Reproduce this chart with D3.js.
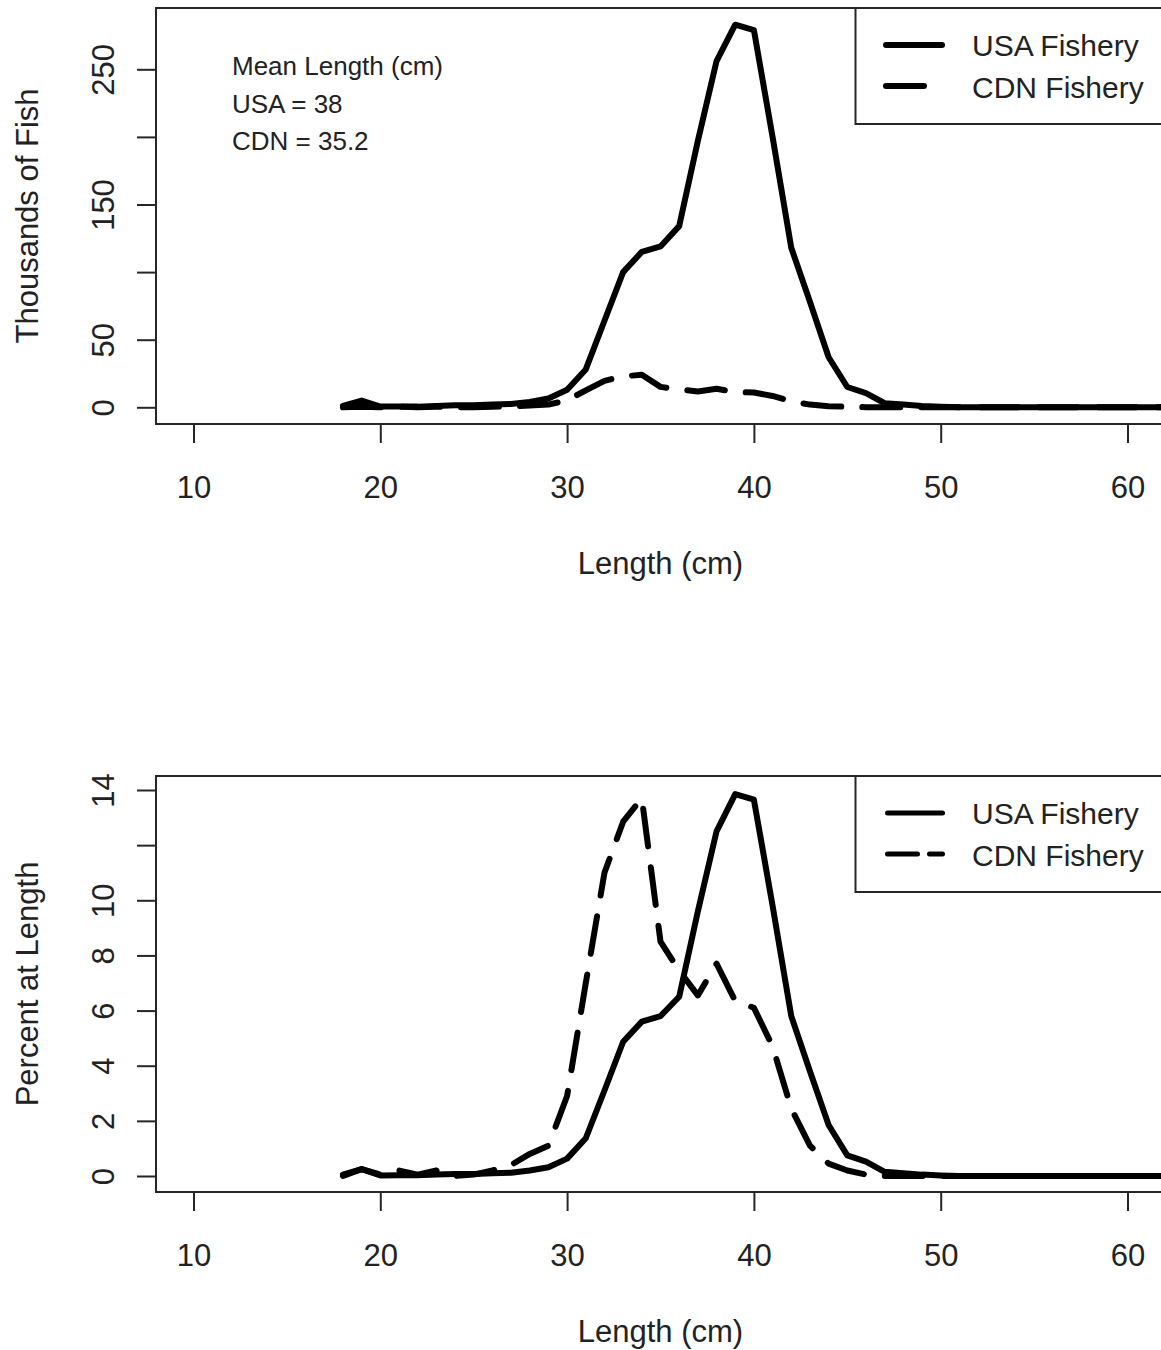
<!DOCTYPE html>
<html>
<head>
<meta charset="utf-8">
<script src="https://cdn.jsdelivr.net/npm/d3@7"></script>
<style>
  body { margin: 0; background: #fff; }
  text { font-family: "Liberation Sans", Arial, sans-serif; fill: #222; }
</style>
</head>
<body>
<svg id="chart" width="1161" height="1350"></svg>
<script>
// Length classes (cm)
const lengthCm = [18,19,20,21,22,23,24,25,26,27,28,29,30,31,32,33,34,35,36,37,38,39,40,
                  41,42,43,44,45,46,47,48,49,50,51,52,53,54,55,56,57,58,59,60,61,62,63,64];

// Catch at length, thousands of fish
const usaThousands = [1,5,0.5,0.5,0.5,1,1.5,1.5,2,2.5,4,6.5,13,28,64,100,115,119,134,197,256,283,279,
                      200,118,78,37,15,10.5,3,2,1,0.5,0,0,0,0,0,0,0,0,0,0,0,0,0,0];
const cdnThousands = [0,0.4,0.1,0.4,0.1,0.4,0,0.1,0.4,0.7,1.4,2,5.2,12.5,19.6,22.9,24,15.1,13.3,11.7,13.7,11.3,10.9,
                      8.4,4.4,2,0.8,0.4,0.1,0,0,0,0,0,0,0,0,0,0,0,0,0,0,0,0,0,0];

// Percent at length
const usaPercent = [0.05,0.25,0.02,0.03,0.03,0.05,0.07,0.07,0.1,0.12,0.2,0.32,0.63,1.37,3.1,4.87,5.6,5.8,6.5,9.6,12.5,13.85,13.65,
                    9.8,5.8,3.8,1.85,0.75,0.52,0.15,0.1,0.05,0.02,0,0,0,0,0,0,0,0,0,0,0,0,0,0];
const cdnPercent = [0,0.25,0.05,0.2,0.05,0.2,0,0.05,0.2,0.4,0.8,1.1,2.9,7,11,12.85,13.7,8.5,7.45,6.55,7.7,6.35,6.1,
                    4.7,2.45,1.1,0.45,0.2,0.05,0,0,0,0,0,0,0,0,0,0,0,0,0,0,0,0,0,0];

// Axis ticks and labels
const xTicks = [10,20,30,40,50,60];
const countTicks = [0,50,100,150,200,250];
const countTickLabels = ["0","50","","150","","250"];
const pctTicks = [0,2,4,6,8,10,12,14];
const pctTickLabels = ["0","2","4","6","8","10","","14"];
const seriesNames = ["USA Fishery","CDN Fishery"];
const meanLines = ["Mean Length (cm)","USA = 38","CDN = 35.2"];
const xTitle = "Length (cm)";

const svg = d3.select("#chart");
svg.append("rect").attr("width", 1161).attr("height", 1350).attr("fill", "#fff");

const plotLeft = 156, plotRight = 1165;
const x = d3.scaleLinear().domain([10, 60]).range([193.5, 1127.5]);

const INK = "#262626";

function drawPanel(cfg) {
  const g = svg.append("g");
  const y = d3.scaleLinear().domain(cfg.yDomain).range(cfg.yRange);
  const clipId = "clip-" + cfg.id;
  svg.append("defs").append("clipPath").attr("id", clipId)
    .append("rect").attr("x", plotLeft).attr("y", cfg.top)
    .attr("width", plotRight - plotLeft).attr("height", cfg.bottom - cfg.top);

  // series
  const line = d3.line().x((d, i) => x(lengthCm[i])).y(d => y(d));
  const lines = g.append("g").attr("clip-path", `url(#${clipId})`);
  cfg.series.forEach((s, k) => {
    lines.append("path")
      .attr("d", line(s))
      .attr("fill", "none")
      .attr("stroke", "#000")
      .attr("stroke-width", 6)
      .attr("stroke-linecap", "round")
      .attr("stroke-linejoin", "round")
      .attr("stroke-dasharray", k === 1 ? "38,21" : null);
  });

  // frame
  g.append("rect")
    .attr("x", plotLeft).attr("y", cfg.top)
    .attr("width", plotRight - plotLeft).attr("height", cfg.bottom - cfg.top)
    .attr("fill", "none").attr("stroke", INK).attr("stroke-width", 2);

  // x axis
  const xa = g.append("g").attr("transform", `translate(0,${cfg.bottom})`)
    .call(d3.axisBottom(x).tickValues(xTicks).tickSize(19).tickFormat(d3.format("d")));
  xa.select(".domain").remove();
  xa.selectAll(".tick line").attr("stroke", INK).attr("stroke-width", 2);
  xa.selectAll(".tick text").attr("y", 74).attr("dy", null)
    .attr("font-size", 31).attr("fill", "#222")
    .style("font-family", '"Liberation Sans", Arial, sans-serif');

  // y axis
  const ya = g.append("g").attr("transform", `translate(${plotLeft},0)`)
    .call(d3.axisLeft(y).tickValues(cfg.yTicks).tickSize(19)
      .tickFormat((d, i) => cfg.yTickLabels[i]));
  ya.select(".domain").remove();
  ya.selectAll(".tick line").attr("stroke", INK).attr("stroke-width", 2);
  ya.selectAll(".tick text")
    .attr("x", 0).attr("dy", null)
    .attr("text-anchor", "middle")
    .attr("transform", "translate(-42,0) rotate(-90)")
    .attr("font-size", 31).attr("fill", "#222")
    .style("font-family", '"Liberation Sans", Arial, sans-serif');

  // axis titles
  g.append("text")
    .attr("transform", `translate(38,${(cfg.top + cfg.bottom) / 2}) rotate(-90)`)
    .attr("text-anchor", "middle").attr("font-size", 31)
    .text(cfg.yTitle);
  g.append("text")
    .attr("x", (plotLeft + plotRight) / 2).attr("y", cfg.bottom + 150)
    .attr("text-anchor", "middle").attr("font-size", 31)
    .text(xTitle);

  // legend
  const lg = g.append("g").attr("transform", `translate(0,${cfg.top})`);
  lg.append("rect").attr("x", 855.5).attr("y", 0).attr("width", 330).attr("height", 116)
    .attr("fill", "#fff").attr("stroke", INK).attr("stroke-width", 2);
  seriesNames.forEach((name, k) => {
    const ly = k === 0 ? 37 : 78;
    lg.append("line")
      .attr("x1", cfg.legendLine[0]).attr("x2", cfg.legendLine[1])
      .attr("y1", ly).attr("y2", ly)
      .attr("stroke", "#000").attr("stroke-width", cfg.legendWidth)
      .attr("stroke-linecap", "round")
      .attr("stroke-dasharray", k === 1 ? cfg.legendDash : null);
    lg.append("text").attr("x", 972).attr("y", k === 0 ? 48 : 89.5)
      .attr("font-size", 30).text(name);
  });

  return g;
}

drawPanel({
  id: "count", top: 8, bottom: 424,
  yDomain: [0, 250], yRange: [407.3, 69.3],
  yTicks: countTicks, yTickLabels: countTickLabels,
  yTitle: "Thousands of Fish",
  series: [usaThousands, cdnThousands],
  legendLine: [886, 942], legendWidth: 6, legendDash: "38,21"
});

// mean-length note in the upper panel
const note = svg.append("g");
meanLines.forEach((t, i) => {
  note.append("text").attr("x", 232).attr("y", [75, 113, 150][i])
    .attr("font-size", 26).text(t);
});

drawPanel({
  id: "pct", top: 776, bottom: 1192,
  yDomain: [0, 14], yRange: [1176, 790],
  yTicks: pctTicks, yTickLabels: pctTickLabels,
  yTitle: "Percent at Length",
  series: [usaPercent, cdnPercent],
  legendLine: [887.5, 942.5], legendWidth: 5, legendDash: "30,12"
});
</script>
</body>
</html>
